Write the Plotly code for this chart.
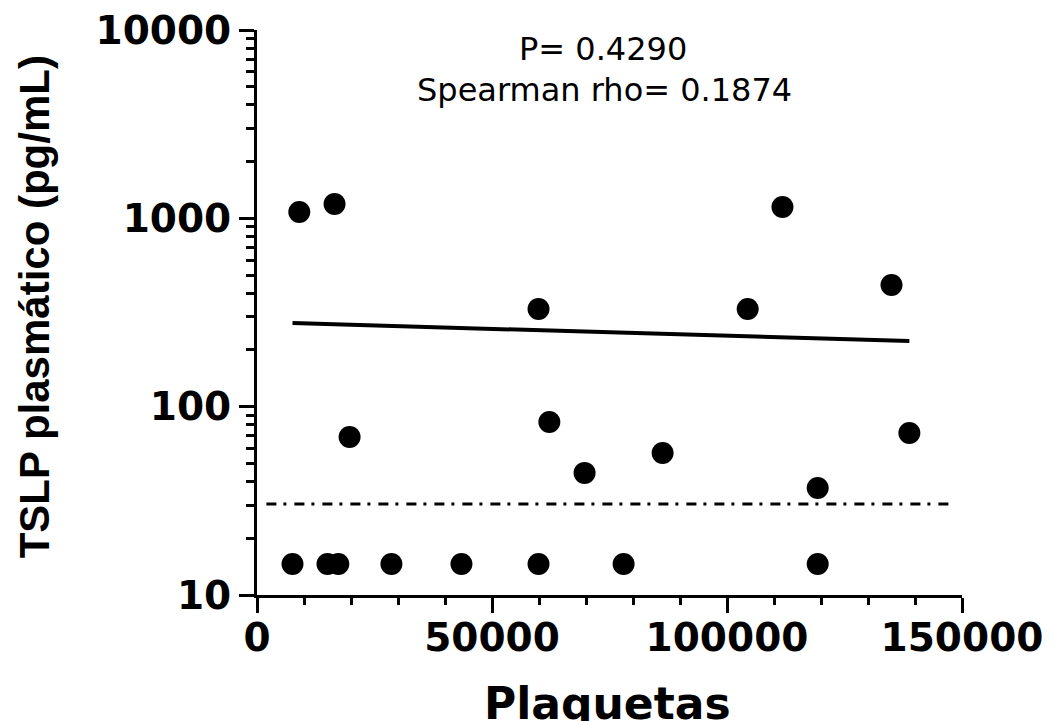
import plotly.graph_objects as go

# Data
plaquetas = [7550, 15000, 17300, 28600, 43500, 59900, 78000, 119300,
             9000, 16500, 19700, 62200, 59900, 69700, 86300, 104400,
             111800, 119300, 135000, 138800]
tslp = [14.6, 14.6, 14.6, 14.6, 14.6, 14.6, 14.6, 14.6,
        1081, 1191, 69.0, 82.9, 330, 44.5, 56.8, 330,
        1148, 37.0, 443, 72.4]

fit_x = [7550, 138800]
fit_y = [278, 223]

lod_x = [2000, 148000]
lod_y = [30.4, 30.4]

x_ticks = [0, 50000, 100000, 150000]
y_ticks = [10, 100, 1000, 10000]

fig = go.Figure()

fig.add_trace(go.Scatter(x=lod_x, y=lod_y, mode="lines",
                         line=dict(color="black", width=3, dash="10px,7px,3px,8px"),
                         hoverinfo="skip", showlegend=False))
fig.add_trace(go.Scatter(x=fit_x, y=fit_y, mode="lines",
                         line=dict(color="black", width=4),
                         hoverinfo="skip", showlegend=False))
fig.add_trace(go.Scatter(x=plaquetas, y=tslp, mode="markers",
                         marker=dict(color="black", size=22, symbol="circle"),
                         showlegend=False))

tickfont = dict(family="DejaVu Sans", size=39, color="black", weight="bold")

fig.update_xaxes(range=[0, 150000], tickmode="array", tickvals=x_ticks,
                 ticktext=[str(v) for v in x_ticks],
                 showline=True, linecolor="black", linewidth=3,
                 ticks="outside", ticklen=15, tickwidth=3, tickcolor="black",
                 minor=dict(ticks="outside", ticklen=7, tickwidth=3, tickcolor="black",
                            dtick=10000, showgrid=False),
                 ticklabelstandoff=-9, ticklabeloverflow="allow", automargin=False,
                 showgrid=False, zeroline=False, tickfont=tickfont)
fig.update_yaxes(type="log", range=[1, 4], tickmode="array", tickvals=y_ticks,
                 ticktext=[str(v) for v in y_ticks],
                 showline=True, linecolor="black", linewidth=3,
                 ticks="outside", ticklen=15, tickwidth=3, tickcolor="black",
                 minor=dict(ticks="outside", ticklen=8, tickwidth=3, tickcolor="black",
                            dtick="D1", showgrid=False),
                 ticklabeloverflow="allow", automargin=False,
                 showgrid=False, zeroline=False, tickfont=tickfont)

annots = [
    dict(text="P= 0.4290", x=0.491, y=0.967, font=dict(family="DejaVu Sans", size=32, color="black")),
    dict(text="Spearman rho= 0.1874", x=0.493, y=0.894, font=dict(family="DejaVu Sans", size=32, color="black")),
    dict(text="Plaquetas", x=0.497, y=-0.192,
         font=dict(family="DejaVu Sans", size=44, color="black", weight="bold")),
    dict(text="TSLP plasmático (pg/mL)", x=-0.3156, y=0.51, textangle=-90,
         font=dict(family="Liberation Sans", size=42, color="black", weight="bold")),
]
for a in annots:
    fig.add_annotation(xref="paper", yref="paper", showarrow=False,
                       xanchor="center", yanchor="middle", **a)

# the page body has an 8 px margin, so the figure is 8 px smaller and its margins
# are reduced to keep the plot area where the reference has it
fig.update_layout(width=1047, height=713, plot_bgcolor="white", paper_bgcolor="white",
                  margin=dict(l=249, r=93, t=22, b=126, autoexpand=False), showlegend=False)

fig.write_html("out.html")
